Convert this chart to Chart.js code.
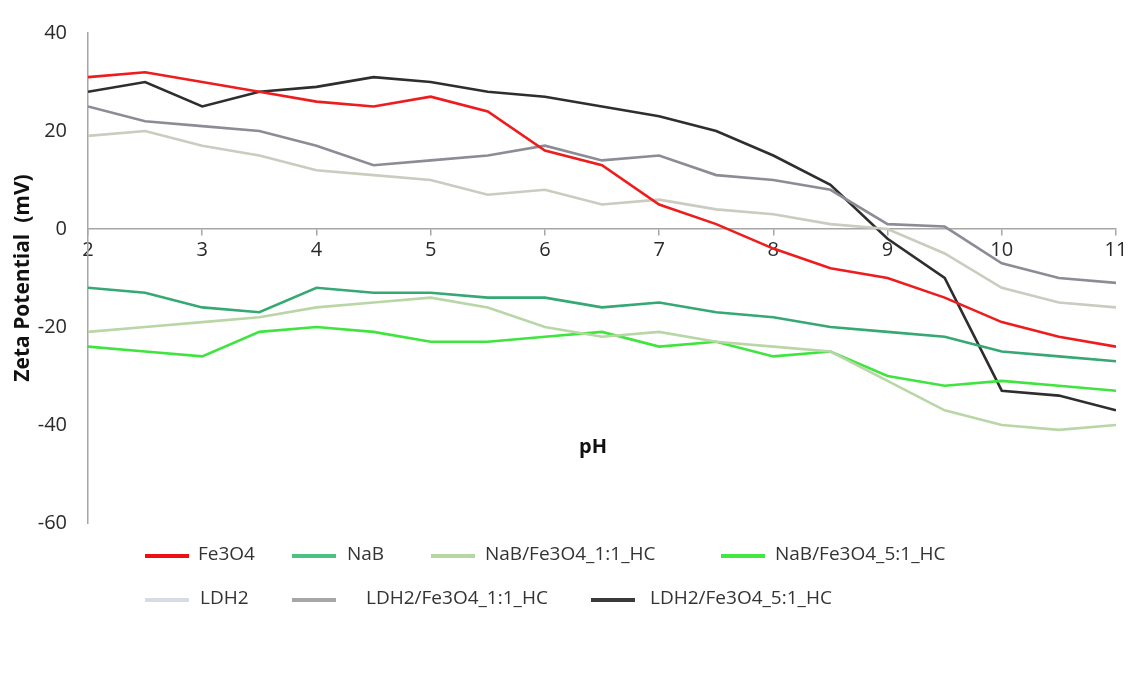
<!DOCTYPE html>
<html>
<head>
<meta charset="utf-8">
<script src="https://cdn.jsdelivr.net/npm/chart.js@4/dist/chart.umd.min.js"></script>
<style>
  html, body { margin: 0; padding: 0; background: #ffffff; }
  #wrap { width: 1134px; height: 679px; }
</style>
</head>
<body>
<div id="wrap"><canvas id="zeta" width="1134" height="679"></canvas></div>
<script>
// pH values of the titration points
const pH = [2, 2.5, 3, 3.5, 4, 4.5, 5, 5.5, 6, 6.5, 7, 7.5, 8, 8.5, 9, 9.5, 10, 10.5, 11];

// Zeta potential (mV) per sample
const fe3o4      = [31, 32, 30, 28, 26, 25, 27, 24, 16, 13, 5, 1, -4, -8, -10, -14, -19, -22, -24];
const naB        = [-12, -13, -16, -17, -12, -13, -13, -14, -14, -16, -15, -17, -18, -20, -21, -22, -25, -26, -27];
const naB_11     = [-21, -20, -19, -18, -16, -15, -14, -16, -20, -22, -21, -23, -24, -25, -31, -37, -40, -41, -40];
const naB_51     = [-24, -25, -26, -21, -20, -21, -23, -23, -22, -21, -24, -23, -26, -25, -30, -32, -31, -32, -33];
const ldh2       = [19, 20, 17, 15, 12, 11, 10, 7, 8, 5, 6, 4, 3, 1, 0, -5, -12, -15, -16];
const ldh2_11    = [25, 22, 21, 20, 17, 13, 14, 15, 17, 14, 15, 11, 10, 8, 1, 0.5, -7, -10, -11];
const ldh2_51    = [28, 30, 25, 28, 29, 31, 30, 28, 27, 25, 23, 20, 15, 9, -2, -10, -33, -34, -37];

const seriesNames = ['Fe3O4', 'NaB', 'NaB/Fe3O4_1:1_HC', 'NaB/Fe3O4_5:1_HC', 'LDH2', 'LDH2/Fe3O4_1:1_HC', 'LDH2/Fe3O4_5:1_HC'];
const seriesValues = [fe3o4, naB, naB_11, naB_51, ldh2, ldh2_11, ldh2_51];
const lineColors   = ['#ee1c1c', '#35a874', '#b9d6a6', '#3fe43f', '#c9ccbe', '#8c8c96', '#2e2e2e'];
const swatchColors = ['#ee1010', '#4cc281', '#b6d7a3', '#42e842', '#d6dce5', '#a6a6a6', '#3a3a3a'];

// y-axis ticks
const yMin = -60, yMax = 40, yStep = 20;

const FONT = "'Open Sans', 'Liberation Sans', sans-serif";
const TEXT = '#2a2a2a';
const AXIS = '#a6a6a6';

// Legend placement: [swatch start x, text start x, row]
const legendSlots = [
  [145, 198, 0], [292, 347, 0], [431, 485, 0], [721, 775, 0],
  [145, 200, 1], [292, 366, 1], [591, 650, 1]
];
const legendRowsY = [556, 600];

const legendPlugin = {
  id: 'rowLegend',
  afterDraw(chart) {
    const ctx = chart.ctx;
    ctx.save();
    ctx.font = '19px ' + FONT;
    ctx.textBaseline = 'middle';
    chart.data.datasets.forEach((ds, i) => {
      const [sx, tx, row] = legendSlots[i];
      const y = legendRowsY[row];
      ctx.strokeStyle = swatchColors[i];
      ctx.lineWidth = 4;
      ctx.beginPath();
      ctx.moveTo(sx, y);
      ctx.lineTo(sx + 44, y);
      ctx.stroke();
      ctx.fillStyle = '#333333';
      ctx.fillText(ds.label, tx, y - 1);
    });
    ctx.restore();
  }
};

const pHTitlePlugin = {
  id: 'pHTitle',
  afterDraw(chart) {
    const ctx = chart.ctx;
    const a = chart.chartArea;
    ctx.save();
    ctx.font = 'bold 20px ' + FONT;
    ctx.fillStyle = '#111111';
    ctx.textAlign = 'center';
    ctx.textBaseline = 'middle';
    ctx.fillText('pH', (a.left + a.right) / 2 - 9, a.top + 414);
    ctx.restore();
  }
};

const datasets = seriesNames.map((name, i) => ({
  label: name,
  data: pH.map((x, k) => ({ x: x, y: seriesValues[i][k] })),
  borderColor: lineColors[i],
  backgroundColor: lineColors[i],
  borderWidth: 2.6,
  pointRadius: 0,
  tension: 0,
  fill: false
}));

new Chart(document.getElementById('zeta'), {
  type: 'line',
  data: { datasets },
  plugins: [legendPlugin, pHTitlePlugin],
  options: {
    responsive: false,
    animation: false,
    devicePixelRatio: 1,
    layout: { padding: { top: 28, right: 18, bottom: 156, left: 0 } },
    plugins: {
      legend: { display: false },
      tooltip: { enabled: false }
    },
    scales: {
      x: {
        type: 'linear',
        position: { y: 0 },
        min: 2,
        max: 11,
        ticks: {
          stepSize: 1,
          color: TEXT,
          font: { family: FONT, size: 20 },
          padding: 3,
          maxRotation: 0
        },
        grid: {
          drawOnChartArea: false,
          drawTicks: true,
          tickLength: 6,
          color: AXIS,
          lineWidth: 1.5
        },
        border: { color: AXIS, width: 1.5 }
      },
      y: {
        type: 'linear',
        min: yMin,
        max: yMax,
        afterFit(scale) { scale.width = 88; },
        ticks: {
          stepSize: yStep,
          color: TEXT,
          font: { family: FONT, size: 20 },
          padding: 21
        },
        grid: { display: false, drawTicks: false },
        border: { color: AXIS, width: 1.5 },
        title: {
          display: true,
          text: 'Zeta Potential  (mV)',
          color: '#111111',
          font: { family: FONT, size: 21, weight: 'bold' },
          padding: { top: 10, bottom: 0 }
        }
      }
    }
  }
});
</script>
</body>
</html>
